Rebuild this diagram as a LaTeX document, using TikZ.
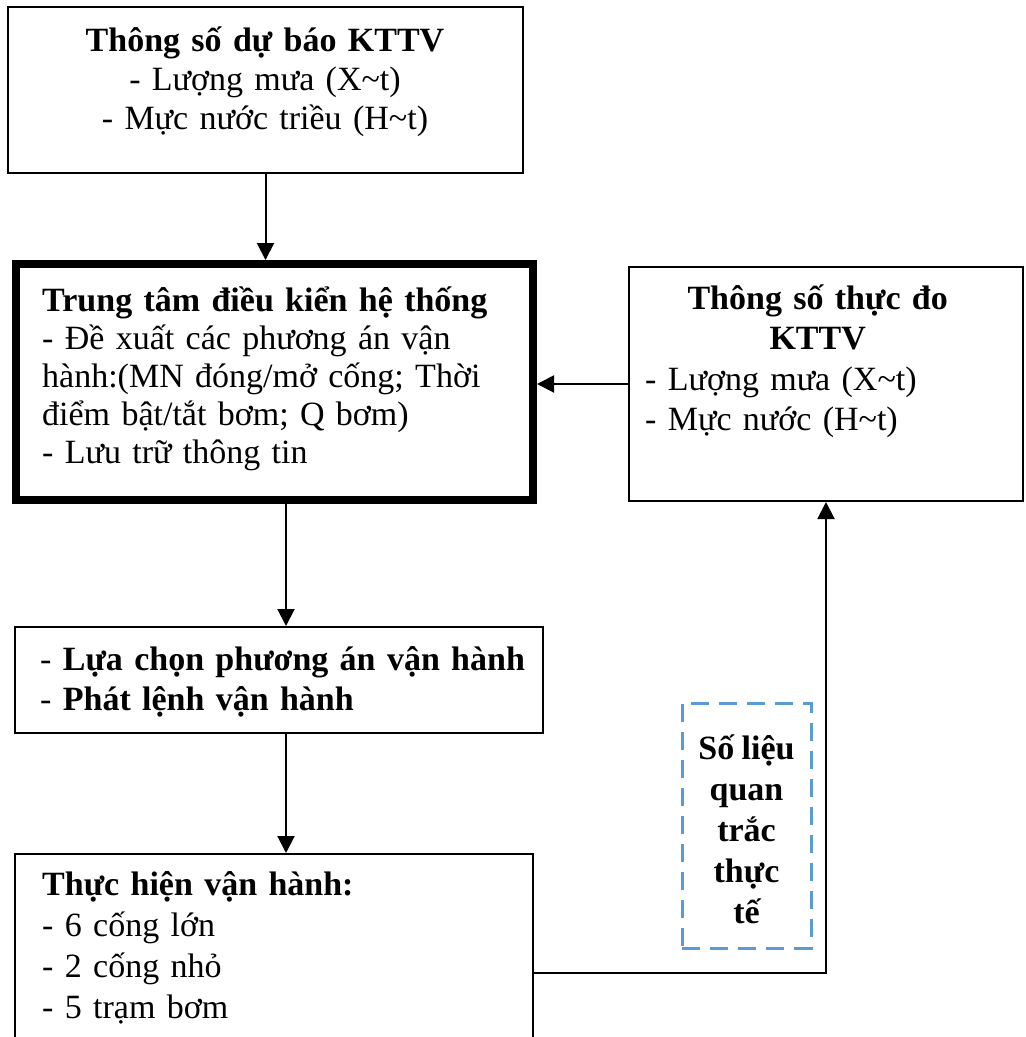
\documentclass[tikz,border=0pt]{standalone}
\usepackage{fontspec}
\setmainfont[WordSpace=0.85]{Liberation Serif}
\usetikzlibrary{arrows.meta}
\definecolor{obsblue}{RGB}{91,155,213}

\begin{document}
\begin{tikzpicture}[x=1pt, y=-1pt, font=\fontsize{34}{40}\selectfont,
  boxframe/.style={draw, line width=2pt, inner sep=0pt, anchor=north west},
  txt/.style={inner sep=0pt, anchor=base west, align=left},
  flow/.style={-{Triangle[width=17pt,length=17pt]}, line width=2pt}]
  \useasboundingbox (0,0) rectangle (1026,1037);

  % Boxes
  \node[boxframe, minimum width=515pt, minimum height=166pt] (fcst) at (7,6) {};
  \node[boxframe, line width=8pt, minimum width=517pt, minimum height=236pt] (ctrl) at (12,260) {};
  \node[boxframe, minimum width=394pt, minimum height=234pt] (meas) at (628,266) {};
  \node[boxframe, minimum width=528pt, minimum height=106pt] (sel) at (14,626) {};
  \node[boxframe, minimum width=518pt, minimum height=238pt] (exec) at (14,853) {};

  % Observed data box
  \node[boxframe, draw=obsblue, line width=3pt, dash pattern=on 18pt off 10pt,
    minimum width=129pt, minimum height=245pt, align=center,
    font=\bfseries\fontsize{34}{41}\selectfont] (obs) at (680.5,701.5)
    {\\[-8pt]Số liệu\\quan\\trắc\\thực\\tế};

  % Texts
  \node[txt, anchor=base, text width=500pt, align=center, font=\fontsize{34}{39}\selectfont] (fcst-txt) at (265,51)
    {\textbf{Thông số dự báo KTTV}\\- Lượng mưa (X\textasciitilde t)\\- Mực nước triều (H\textasciitilde t)};
  \node[txt, text width=480pt, font=\fontsize{34}{38}\selectfont] (ctrl-txt) at (42,311)
    {\textbf{Trung tâm điều kiển hệ thống}\\- Đề xuất các phương án vận\\hành:(MN đóng/mở cống; Thời\\điểm bật/tắt bơm; Q bơm)\\- Lưu trữ thông tin};
  \node[txt, text width=345pt, font=\fontsize{34}{40.5}\selectfont] (meas-txt) at (645,309)
    {{\centering\bfseries Thông số thực đo\\KTTV\par}- Lượng mưa (X\textasciitilde t)\\- Mực nước (H\textasciitilde t)};
  \node[txt, text width=500pt] (sel-txt) at (40,670)
    {- \textbf{Lựa chọn phương án vận hành}\\- \textbf{Phát lệnh vận hành}};
  \node[txt, text width=480pt, font=\fontsize{34}{41}\selectfont] (exec-txt) at (42,895)
    {\textbf{Thực hiện vận hành:}\\- 6 cống lớn\\- 2 cống nhỏ\\- 5 trạm bơm};

  % Arrows
  \draw[flow] (fcst.south) -- (fcst.south |- ctrl.north);
  \draw[flow] (meas.west) -- (meas.west -| ctrl.east);
  \draw[flow] ([xshift=11.5pt]ctrl.south) -- ([xshift=11.5pt]ctrl.south |- sel.north);
  \draw[flow] ([xshift=7pt]sel.south) -- ([xshift=7pt]sel.south |- exec.north);
  \draw[flow] (exec.east) -| (meas.south);
\end{tikzpicture}
\end{document}
